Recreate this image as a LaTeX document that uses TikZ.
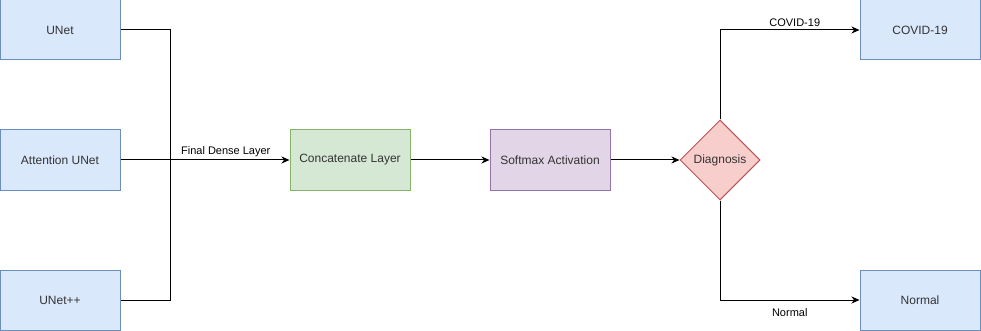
\documentclass[tikz,border=0pt]{standalone}
\usepackage{fontspec}
\setmainfont{Liberation Sans}
\usetikzlibrary{arrows.meta,shapes.geometric}

\definecolor{bluefill}{HTML}{DAE8FC}
\definecolor{bluedraw}{HTML}{6C8EBF}
\definecolor{greenfill}{HTML}{D5E8D4}
\definecolor{greendraw}{HTML}{82B366}
\definecolor{purplefill}{HTML}{E1D5E7}
\definecolor{purpledraw}{HTML}{9673A6}
\definecolor{redfill}{HTML}{F8CECC}
\definecolor{reddraw}{HTML}{B85450}
\definecolor{textgrey}{HTML}{333333}

\tikzset{
  block/.style={rectangle, minimum width=120pt, minimum height=60pt,
    inner sep=0pt, line width=1pt, font=\fontsize{12}{14}\selectfont, text=textgrey},
  modelbox/.style={block, draw=bluedraw, fill=bluefill},
  concatbox/.style={block, draw=greendraw, fill=greenfill},
  softbox/.style={block, draw=purpledraw, fill=purplefill},
  decision/.style={diamond, draw=reddraw, fill=redfill, line width=1pt,
    minimum width=80pt, minimum height=80pt, inner sep=0pt,
    font=\fontsize{12}{14}\selectfont, text=textgrey},
  link/.style={line width=1pt, black},
  flow/.style={link, -{Stealth[length=8pt,width=7pt,inset=2.5pt]}},
  edgelabel/.style={font=\fontsize{11}{13}\selectfont, text=black, inner sep=3pt}
}

\begin{document}
\begin{tikzpicture}[x=1pt,y=-1pt]
  \useasboundingbox (0,0) rectangle (981,331);

  % model branches
  \node[modelbox] (unet) at (60,30) {UNet};
  \node[modelbox] (attunet) at (60,160) {Attention UNet};
  \node[modelbox] (unetpp) at (60,300) {UNet++};

  % fusion and classification
  \node[concatbox] (concat) at (350,160) {Concatenate Layer};
  \node[softbox] (softmax) at (550,160) {Softmax Activation};
  \node[decision] (diag) at (720,160) {Diagnosis};

  % outcomes
  \node[modelbox] (covid) at (920,30) {COVID-19};
  \node[modelbox] (normal) at (920,300) {Normal};

  % merging the three branch outputs
  \coordinate (merge) at (170,160);
  \draw[link] (unet.east) -| (merge);
  \draw[link] (unetpp.east) -| (merge);
  \draw[flow] (attunet.east) -- (concat.west);
  \path (merge) -- node[edgelabel, above, xshift=-4pt] {Final Dense Layer} (concat.west);

  \draw[flow] (concat.east) -- (softmax.west);
  \draw[flow] (softmax.east) -- (diag.west);

  % decision outcomes
  \draw[flow] (diag.north) |- node[edgelabel, pos=0.75, above, xshift=5pt] {COVID-19} (covid.west);
  \draw[flow] (diag.south) |- node[edgelabel, pos=0.75, below, yshift=-5pt] {Normal} (normal.west);
\end{tikzpicture}
\end{document}
